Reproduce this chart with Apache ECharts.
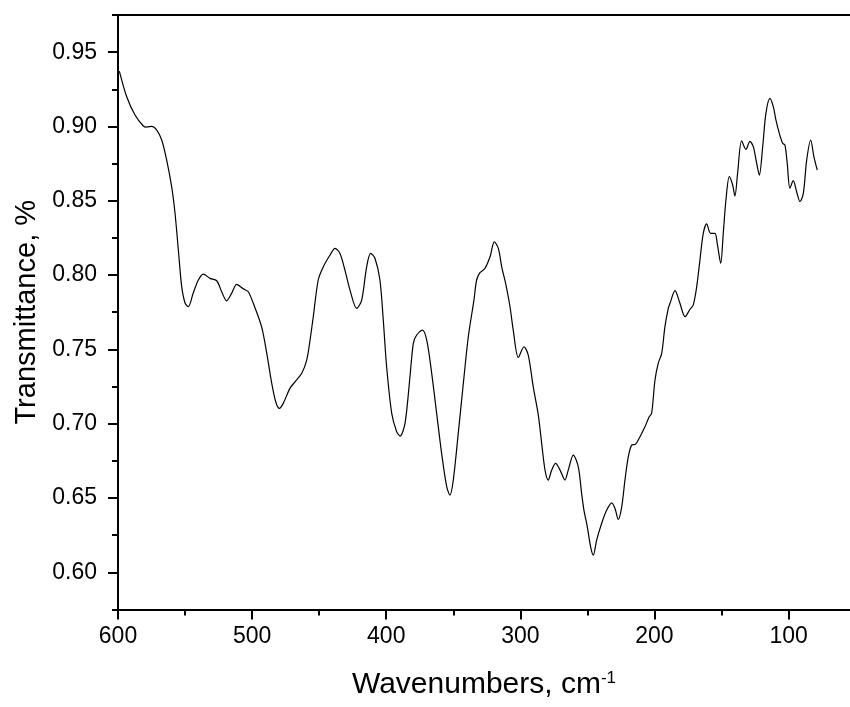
<!DOCTYPE html>
<html>
<head>
<meta charset="utf-8">
<script src="https://cdn.jsdelivr.net/npm/echarts@6/dist/echarts.min.js"></script>
<style>
html,body{margin:0;padding:0;background:#fff;}
#chart{width:850px;height:707px;}
</style>
</head>
<body>
<div id="chart"></div>
<script>
// Wavenumber (cm-1) and transmittance values
var wavenumbers = [599.0,593.5,587.3,581.1,578.6,574.9,571.1,567.4,563.7,560.0,557.5,555.0,552.5,550.0,547.6,543.9,540.1,536.4,531.4,526.4,522.7,519.0,515.2,511.5,506.6,502.9,499.1,492.9,489.1,485.4,482.4,479.7,476.8,471.8,468.0,463.0,459.3,456.8,454.4,450.7,446.9,441.9,438.2,434.5,430.8,427.0,422.0,418.3,414.6,411.6,408.4,404.7,402.2,399.7,395.9,392.2,389.7,386.0,382.3,379.8,377.3,373.1,369.8,366.1,362.4,358.7,354.9,352.5,350.0,346.3,342.5,338.8,334.6,332.6,330.1,326.4,322.6,319.4,316.4,313.9,310.7,307.7,305.3,301.5,297.3,294.1,290.4,286.6,284.1,281.6,279.2,276.6,273.7,270.4,266.7,264.3,260.5,256.8,254.3,252.6,250.1,247.6,245.6,243.1,239.4,235.6,231.9,229.4,227.0,224.4,222.0,219.5,217.0,214.0,210.8,207.1,203.9,202.1,199.6,197.2,194.6,192.2,189.7,188.4,184.7,181.0,177.2,173.5,171.1,168.5,166.1,163.6,161.1,158.1,154.9,153.2,150.6,148.7,146.7,144.2,141.7,140.0,138.0,135.0,131.8,128.8,126.3,123.8,121.8,119.3,116.9,113.9,111.4,109.4,106.9,104.4,102.7,101.0,99.0,96.5,94.0,91.5,89.0,86.5,83.5,81.1,78.6];
var transmittance = [0.9373,0.9200,0.9077,0.9003,0.8996,0.9001,0.8976,0.8909,0.8774,0.8595,0.8418,0.8169,0.7922,0.7812,0.7787,0.7879,0.7967,0.8007,0.7978,0.7962,0.7888,0.7827,0.7879,0.7938,0.7908,0.7888,0.7810,0.7652,0.7475,0.7274,0.7148,0.7103,0.7137,0.7238,0.7282,0.7339,0.7428,0.7563,0.7720,0.7967,0.8056,0.8135,0.8180,0.8146,0.8034,0.7899,0.7776,0.7832,0.8056,0.8146,0.8113,0.7967,0.7698,0.7383,0.7070,0.6946,0.6917,0.7002,0.7316,0.7541,0.7597,0.7630,0.7563,0.7339,0.7070,0.6800,0.6576,0.6520,0.6621,0.6935,0.7272,0.7585,0.7832,0.7967,0.8016,0.8045,0.8123,0.8224,0.8180,0.8056,0.7933,0.7787,0.7630,0.7446,0.7518,0.7462,0.7249,0.7058,0.6868,0.6688,0.6621,0.6688,0.6733,0.6688,0.6621,0.6688,0.6789,0.6710,0.6531,0.6419,0.6307,0.6172,0.6116,0.6217,0.6329,0.6419,0.6468,0.6430,0.6356,0.6441,0.6621,0.6778,0.6856,0.6863,0.6912,0.6979,0.7047,0.7070,0.7294,0.7406,0.7473,0.7652,0.7776,0.7810,0.7895,0.7810,0.7720,0.7770,0.7798,0.7922,0.8101,0.8281,0.8344,0.8281,0.8281,0.8214,0.8079,0.8281,0.8505,0.8662,0.8606,0.8532,0.8685,0.8904,0.8846,0.8900,0.8864,0.8752,0.8673,0.8864,0.9088,0.9189,0.9133,0.9043,0.8954,0.8887,0.8875,0.8752,0.8584,0.8635,0.8561,0.8494,0.8550,0.8774,0.8909,0.8796,0.8707];

var xMajorTicks = [600,500,400,300,200,100];
var xMinorTicks = [550,450,350,250,150];
var yMajorTicks = [0.60,0.65,0.70,0.75,0.80,0.85,0.90,0.95];
var yMinorTicks = [0.575,0.625,0.675,0.725,0.775,0.825,0.875,0.925,0.975];

var xMin = 54.2, xMax = 600, yMin = 0.575, yMax = 0.975;

var data = wavenumbers.map(function(w,i){ return [w, transmittance[i]]; });

var font = '"Liberation Sans", Arial, sans-serif';
var chart = echarts.init(document.getElementById('chart'), null, {renderer:'canvas'});
var gridBox = {left:118, right:0, top:15, bottom:97.5};

chart.setOption({
  animation:false,
  backgroundColor:'#fff',
  grid:[
    Object.assign({}, gridBox),
    Object.assign({}, gridBox)
  ],
  xAxis:[
    {
      type:'value', gridIndex:0, position:'bottom', inverse:true, min:xMin, max:xMax,
      name:'Wavenumbers, cm{sup|-1}', nameLocation:'middle', nameGap:60,
      nameTextStyle:{color:'#000', fontFamily:font, fontSize:30,
        rich:{sup:{fontSize:17, fontFamily:font, color:'#000', verticalAlign:'top', padding:[0,0,14,0]}}},
      axisLine:{show:true, onZero:false, lineStyle:{color:'#000', width:2}},
      axisTick:{show:true, inside:false, length:10, lineStyle:{color:'#000', width:2}, customValues:xMajorTicks},
      axisLabel:{show:true, color:'#000', fontFamily:font, fontSize:23, margin:16, customValues:xMajorTicks,
        formatter:function(v){return String(Math.round(v));}},
      splitLine:{show:false}
    },
    {
      type:'value', gridIndex:0, position:'top', inverse:true, min:xMin, max:xMax,
      axisLine:{show:true, onZero:false, lineStyle:{color:'#000', width:2}},
      axisTick:{show:false}, axisLabel:{show:false}, splitLine:{show:false}
    },
    {
      type:'value', gridIndex:1, position:'bottom', inverse:true, min:xMin, max:xMax,
      axisLine:{show:false, onZero:false},
      axisTick:{show:true, inside:false, length:6, lineStyle:{color:'#000', width:2}, customValues:xMinorTicks},
      axisLabel:{show:false}, splitLine:{show:false}
    }
  ],
  yAxis:[
    {
      type:'value', gridIndex:0, position:'left', min:yMin, max:yMax,
      name:'Transmittance, %', nameLocation:'middle', nameGap:77, nameRotate:90,
      nameTextStyle:{color:'#000', fontFamily:font, fontSize:29},
      axisLine:{show:true, onZero:false, lineStyle:{color:'#000', width:2}},
      axisTick:{show:true, inside:false, length:10, lineStyle:{color:'#000', width:2}, customValues:yMajorTicks},
      axisLabel:{show:true, color:'#000', fontFamily:font, fontSize:23, margin:21, customValues:yMajorTicks,
        formatter:function(v){return v.toFixed(2);}},
      splitLine:{show:false}
    },
    {
      type:'value', gridIndex:1, position:'left', min:yMin, max:yMax,
      axisLine:{show:false, onZero:false},
      axisTick:{show:true, inside:false, length:6, lineStyle:{color:'#000', width:2}, customValues:yMinorTicks},
      axisLabel:{show:false}, splitLine:{show:false}
    }
  ],
  series:[{
    type:'line', xAxisIndex:0, yAxisIndex:0, data:data,
    showSymbol:false, smooth:0.3,
    lineStyle:{color:'#000', width:1.2}
  }]
});
</script>
</body>
</html>
